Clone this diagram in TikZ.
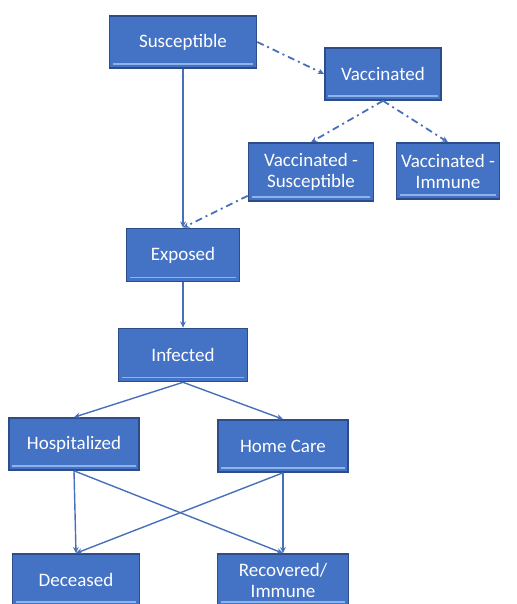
\documentclass[tikz,border=0pt]{standalone}
\usepackage{fontspec}
\setmainfont{Carlito}
\usetikzlibrary{arrows.meta}
\definecolor{boxfill}{RGB}{68, 114, 196}
\definecolor{boxedge}{RGB}{44, 76, 138}
\definecolor{boxline}{RGB}{140, 180, 235}
\definecolor{linkcol}{RGB}{72, 112, 186}

\begin{document}
\begin{tikzpicture}[
  x=1pt, y=-1pt,
  >={Stealth[length=2.2mm,width=2mm]},
  stbox/.style={rectangle,draw=boxedge,line width=1.6pt,fill=boxfill,
                text=white,font=\fontsize{19}{21}\selectfont,align=center,
                inner sep=0pt},
  flow/.style={->,line width=1.4pt,linkcol},
  vflow/.style={->,line width=1.8pt,linkcol,
                dash pattern=on 7pt off 4pt on 2pt off 4pt},
  stripe/.style={line width=1.6pt,boxline},
]
  \useasboundingbox (0,0) rectangle (516,604);

  % --- vaccination branch ---
  \node[stbox,minimum width=147,minimum height=52] (sus)  at (183,42)  {Susceptible};
  \node[stbox,minimum width=116,minimum height=52] (vac)  at (383,74)  {Vaccinated};
  \node[stbox,minimum width=125,minimum height=58] (vacs) at (311,172) {Vaccinated -\\Susceptible};
  \node[stbox,minimum width=103,minimum height=56] (vaci) at (448,171) {Vaccinated -\\Immune};

  % --- disease course ---
  \node[stbox,minimum width=113,minimum height=53] (exp)  at (183,255) {Exposed};
  \node[stbox,minimum width=129,minimum height=53] (inf)  at (183,355) {Infected};
  \node[stbox,minimum width=130,minimum height=52] (hosp) at (74,444)  {Hospitalized};
  \node[stbox,minimum width=130,minimum height=52] (home) at (283,446) {Home Care};
  \node[stbox,minimum width=127,minimum height=52] (dec)  at (76,580)  {Deceased};
  \node[stbox,minimum width=131,minimum height=52] (rec)  at (283,580) {Recovered/\\Immune};

  % --- light stripe at the foot of each box ---
  \foreach \n in {sus,vac,vacs,vaci,exp,inf,hosp,home,dec,rec}
    \draw[stripe] ([xshift=4pt,yshift=5pt]\n.south west) -- ([xshift=-4pt,yshift=5pt]\n.south east);

  % --- links ---
  \draw[vflow] (sus.east) -- (vac.west);
  \draw[vflow] (vac.south) -- (vacs.north);
  \draw[vflow] (vac.south) -- (vaci.north);
  \draw[vflow] ([yshift=6pt]vacs.south west) -- (exp.north);
  \draw[flow] (sus) -- (exp);
  \draw[flow] (exp) -- (inf);
  \draw[flow] (inf.south) -- (hosp.north);
  \draw[flow] (inf.south) -- (home.north);
  \draw[flow] (hosp.south) -- (dec.north);
  \draw[flow] (hosp.south) -- (rec.north);
  \draw[flow] (home.south) -- (dec.north);
  \draw[flow] (home.south) -- (rec.north);

\end{tikzpicture}
\end{document}
